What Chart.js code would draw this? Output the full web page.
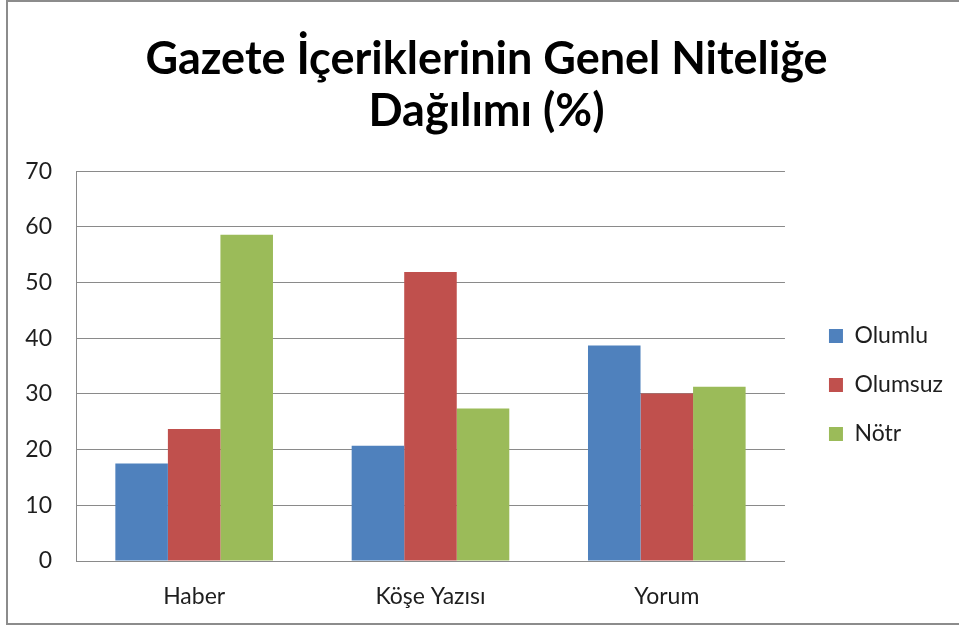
<!DOCTYPE html>
<html lang="tr">
<head>
<meta charset="utf-8">
<title>Gazete İçeriklerinin Genel Niteliğe Dağılımı (%)</title>
<script src="https://cdn.jsdelivr.net/npm/chart.js@4.4.1/dist/chart.umd.min.js"></script>
<style>
    html, body { margin: 0; padding: 0; background: #fff; }
    #wrap { position: relative; width: 959px; height: 632px; overflow: hidden; }
    #frame {
        position: absolute; left: 6px; top: 0; width: 980px; height: 625px;
        border: 2px solid #8c8c8c; border-right: none; box-sizing: border-box;
        pointer-events: none;
    }
    canvas { position: absolute; left: 0; top: 0; }
</style>
</head>
<body>
<div id="wrap">
    <canvas id="chart" width="959" height="632"></canvas>
    <div id="frame"></div>
</div>
<script>
// Datos del gráfico
const categories = ['Haber', 'Köşe Yazısı', 'Yorum'];
const olumlu = [17.5, 20.7, 38.7];
const olumsuz = [23.7, 51.9, 30.1];
const notr = [58.6, 27.4, 31.3];
const yTicks = [0, 10, 20, 30, 40, 50, 60, 70];

const fontFamily = 'Lato, "Noto Sans", sans-serif';
const textColor = '#1e1e1e';
const gridColor = '#8a8a8a';

const ctx = document.getElementById('chart').getContext('2d');

new Chart(ctx, {
    type: 'bar',
    data: {
        labels: categories,
        datasets: [
            { label: 'Olumlu', data: olumlu, backgroundColor: '#4F81BD' },
            { label: 'Olumsuz', data: olumsuz, backgroundColor: '#C0504D' },
            { label: 'Nötr', data: notr, backgroundColor: '#9BBB59' }
        ]
    },
    options: {
        responsive: false,
        animation: false,
        datasets: {
            bar: { categoryPercentage: 0.667, barPercentage: 1.0 }
        },
        layout: { padding: { left: 20, right: 6, top: 0, bottom: 0 } },
        plugins: {
            title: {
                display: true,
                text: ['Gazete İçeriklerinin Genel Niteliğe', 'Dağılımı (%)'],
                color: '#000',
                font: { family: fontFamily, size: 45, weight: 'bold', lineHeight: 1.17 },
                padding: { top: 33, bottom: 33 }
            },
            legend: {
                position: 'right',
                align: 'center',
                // titulo vacio solo para bajar los elementos de la leyenda
                title: {
                    display: true,
                    text: ' ',
                    font: { size: 1, lineHeight: 2 },
                    padding: { top: 136, bottom: 0 }
                },
                labels: {
                    color: textColor,
                    font: { family: fontFamily, size: 23 },
                    boxWidth: 14,
                    boxHeight: 14,
                    padding: 26
                }
            },
            tooltip: { enabled: false }
        },
        scales: {
            x: {
                grid: { display: false, drawTicks: false },
                border: { display: true, color: gridColor, width: 1 },
                ticks: {
                    color: textColor,
                    font: { family: fontFamily, size: 23 },
                    padding: 22
                },
                afterFit: function(scale) { scale.height = 71; }
            },
            y: {
                min: 0,
                max: 70,
                afterBuildTicks: function(scale) {
                    scale.ticks = yTicks.map(v => ({ value: v }));
                },
                grid: { color: gridColor, lineWidth: 1, drawTicks: false },
                border: { display: true, color: gridColor, width: 1 },
                ticks: {
                    color: textColor,
                    font: { family: fontFamily, size: 23 },
                    padding: 24
                },
                afterFit: function(scale) { scale.width = 56; }
            },
            yRight: {
                position: 'right',
                display: true,
                grid: { display: false, drawTicks: false },
                border: { display: false },
                ticks: { display: false },
                afterFit: function(scale) { scale.width = 18; }
            }
        }
    }
});
</script>
</body>
</html>
